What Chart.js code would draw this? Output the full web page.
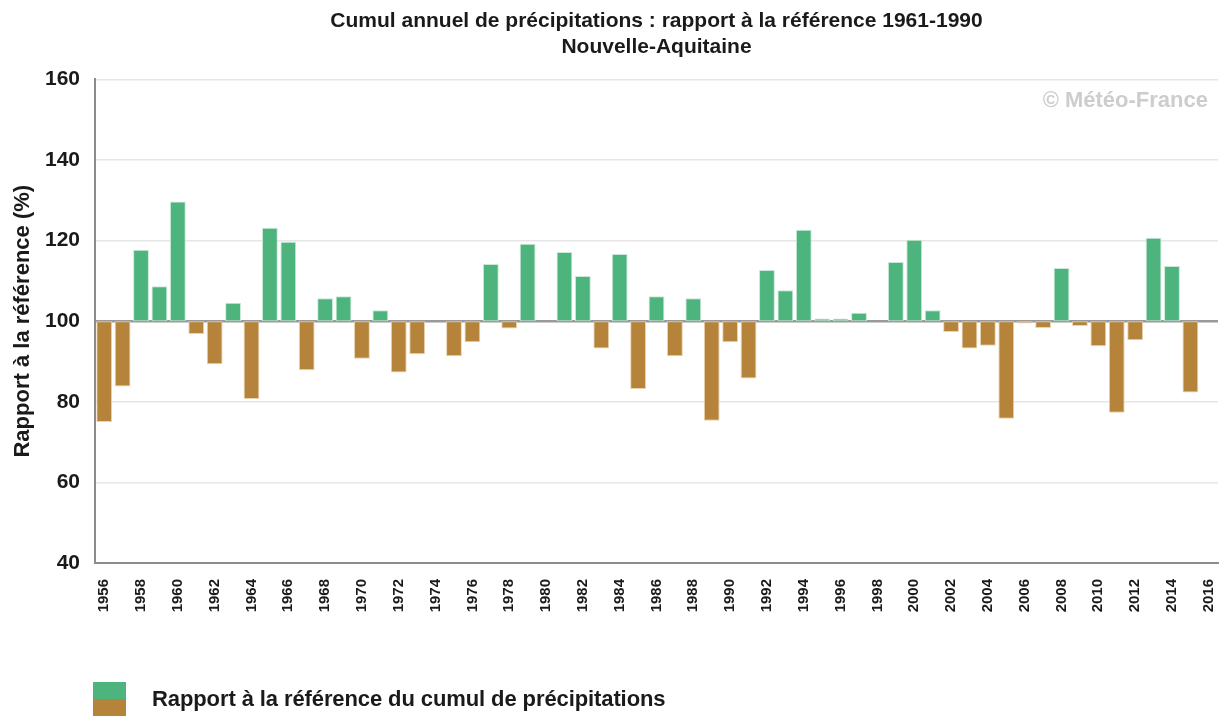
<!DOCTYPE html>
<html lang="fr">
<head>
<meta charset="utf-8">
<title>Cumul annuel de précipitations - Nouvelle-Aquitaine</title>
<script src="https://cdn.jsdelivr.net/npm/chart.js@4"></script>
<style>
  html, body { margin: 0; padding: 0; background: #fff; }
  #wrap { position: relative; width: 1222px; height: 720px; }
  #legend {
    position: absolute; left: 93px; top: 682px;
    display: flex; align-items: center;
    font: bold 22px "Liberation Sans", Arial, sans-serif; color: #1a1a1a;
    letter-spacing: -0.1px;
  }
  #legend .box { width: 33px; height: 34px; margin-right: 26px; }
  #legend .box div { height: 17px; }
</style>
</head>
<body>
<div id="wrap">
  <canvas id="rainChart"></canvas>
  <div id="legend">
    <div class="box"><div style="background:#4db47e"></div><div style="background:#b5833a"></div></div>
    <span>Rapport à la référence du cumul de précipitations</span>
  </div>
</div>
<script>
const years = [];
for (let y = 1956; y <= 2016; y++) years.push(String(y));

// rapport à la référence 1961-1990 (%)
const ratios = [
  75.0, 83.8, 117.7, 108.7, 129.7, 96.8, 89.3, 104.6, 80.7, 123.2,
  119.7, 87.8, 105.7, 106.2, 90.7, 102.7, 87.3, 91.8, 100.0, 91.3,
  94.8, 114.2, 98.2, 119.2, 100.0, 117.2, 111.2, 93.2, 116.7, 83.2,
  106.2, 91.3, 105.7, 75.3, 94.8, 85.8, 112.7, 107.7, 122.7, 100.7,
  100.7, 102.1, 100.0, 114.7, 120.2, 102.7, 97.3, 93.2, 93.9, 75.8,
  99.4, 98.3, 113.2, 98.8, 93.8, 77.3, 95.3, 120.7, 113.7, 82.3,
  null
];

const yTicks = [40, 60, 80, 100, 120, 140, 160];
const reference = 100;

const green = "#4db47e";
const brown = "#b5833a";

const watermark = {
  id: "watermark",
  afterDraw(chart) {
    const c = chart.ctx;
    c.save();
    c.font = "bold 22px 'Liberation Sans', Arial, sans-serif";
    c.fillStyle = "#cdcdcd";
    c.textAlign = "right";
    c.textBaseline = "middle";
    c.fillText("© Météo-France", 1208, 101);
    c.restore();
  }
};

const ctx = document.getElementById("rainChart");

new Chart(ctx, {
  type: "bar",
  data: {
    labels: years,
    datasets: [{
      label: "Rapport à la référence du cumul de précipitations",
      data: ratios.map(v => v === null ? null : [reference, v]),
      backgroundColor: ratios.map(v => v !== null && v >= reference ? green : brown),
      borderColor: ratios.map(v => v !== null && v >= reference ? "#c9e9d6" : "#e9d3b0"),
      borderWidth: 1,
      borderSkipped: false,
      barPercentage: 0.86,
      categoryPercentage: 1.0
    }]
  },
  options: {
    responsive: true,
    maintainAspectRatio: false,
    animation: false,
    layout: {
      padding: { left: 0, right: 4, top: 0, bottom: 97 }
    },
    plugins: {
      legend: { display: false },
      tooltip: { enabled: false },
      title: {
        display: true,
        fullSize: false,
        text: ["Cumul annuel de précipitations : rapport à la référence 1961-1990", "Nouvelle-Aquitaine"],
        color: "#1a1a1a",
        font: { family: "'Liberation Sans', Arial, sans-serif", size: 21, weight: "bold", lineHeight: 1.2 },
        padding: { top: 9, bottom: 20 }
      }
    },
    scales: {
      x: {
        grid: { display: false },
        border: { display: true, color: "#8c8c8c", width: 2 },
        ticks: {
          autoSkip: false,
          minRotation: 90,
          maxRotation: 90,
          padding: 8,
          color: "#1a1a1a",
          font: { family: "'Liberation Sans', Arial, sans-serif", size: 15, weight: "bold" },
          callback: function(value, index) {
            return index % 2 === 0 ? this.getLabelForValue(value) : "";
          }
        },
        afterFit: scale => {
          scale.height = 60;
          scale.paddingLeft = 0;
          scale.paddingRight = 0;
        }
      },
      y: {
        min: 40,
        max: 160,
        afterBuildTicks: scale => { scale.ticks = yTicks.map(v => ({ value: v })); },
        border: { display: true, color: "#8c8c8c", width: 2 },
        grid: {
          drawTicks: false,
          color: c => c.tick.value === reference ? "#9a9a9a" : "#e6e6e6",
          lineWidth: c => c.tick.value === reference ? 2.5 : 1.5
        },
        ticks: {
          padding: 15,
          color: "#1a1a1a",
          font: { family: "'Liberation Sans', Arial, sans-serif", size: 21, weight: "bold" }
        },
        title: {
          display: true,
          text: "Rapport à la référence (%)",
          color: "#1a1a1a",
          font: { family: "'Liberation Sans', Arial, sans-serif", size: 22, weight: "bold" },
          padding: { top: 10, bottom: 4 }
        },
        afterFit: scale => { scale.width = 95; }
      }
    }
  },
  plugins: [watermark]
});
</script>
</body>
</html>
